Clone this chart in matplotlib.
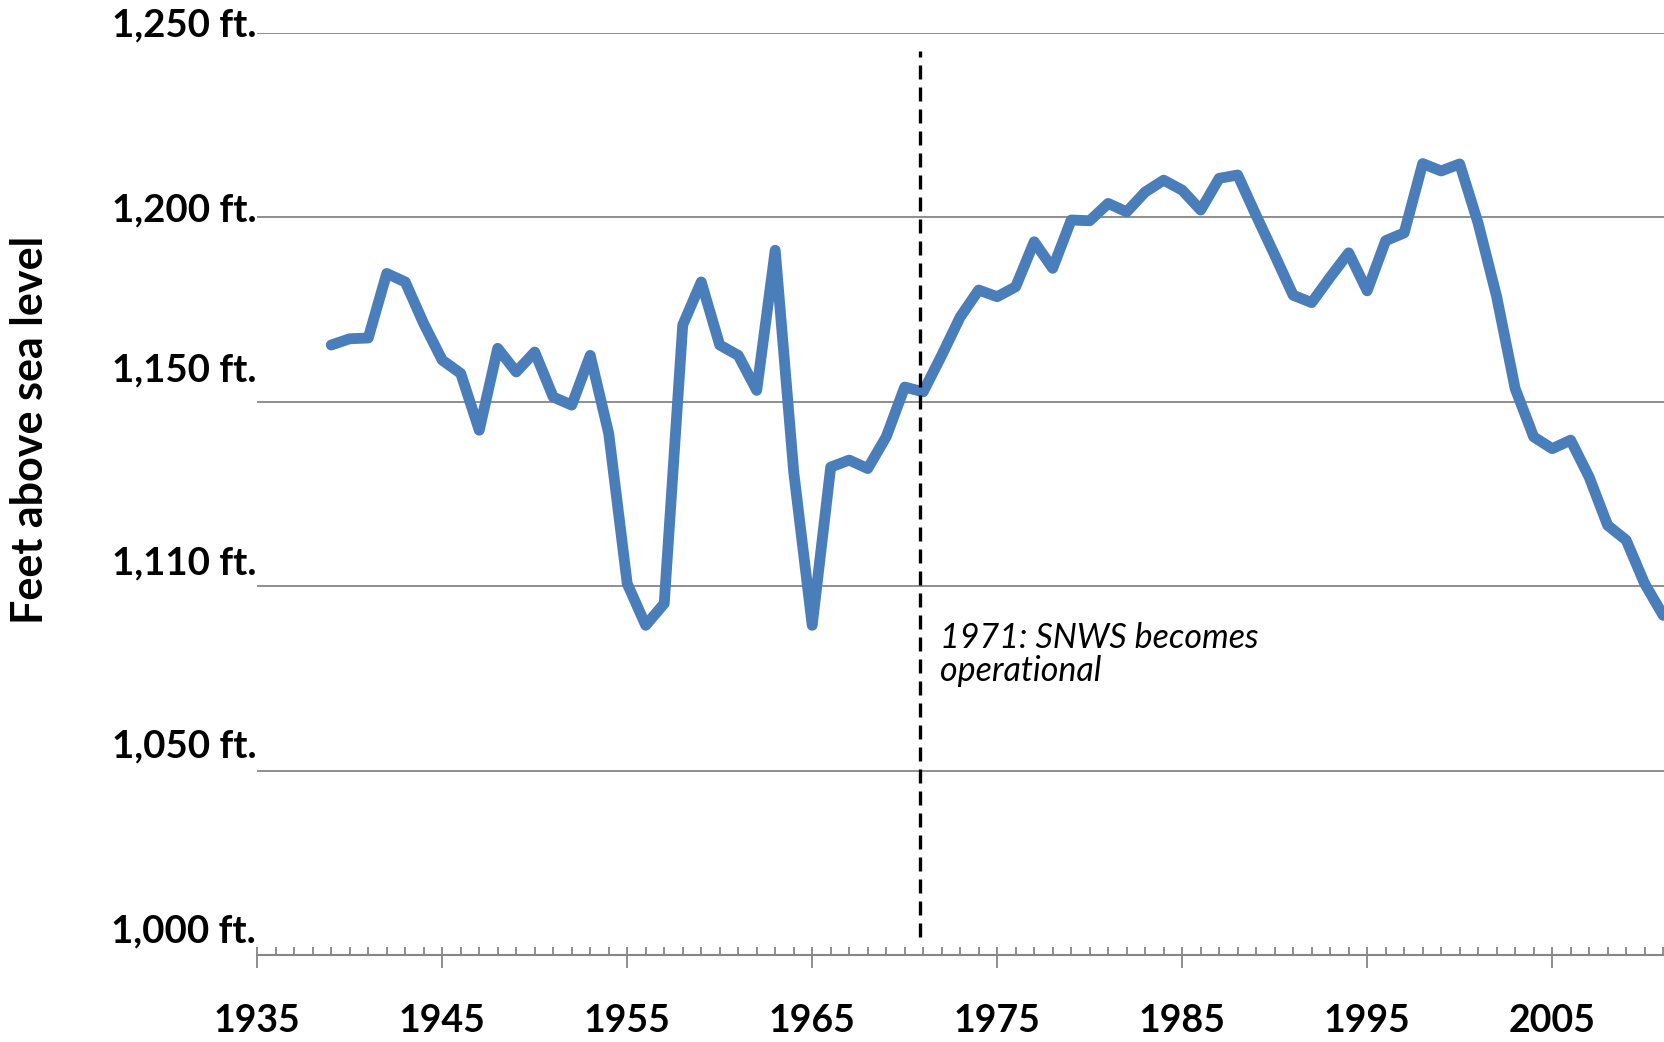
import matplotlib
matplotlib.use("Agg")
import matplotlib.pyplot as plt
from matplotlib.transforms import offset_copy

# Lake level (feet above sea level)
years = list(range(1939, 2012))
level_ft = [
    1165.4, 1167.1, 1167.3, 1184.8, 1182.5, 1171.2, 1161.3, 1157.7, 1142.3, 1164.5,
    1158.1, 1163.5, 1151.3, 1149.1, 1162.6, 1141.4, 1100.7, 1089.4, 1095.3, 1170.8,
    1182.5, 1165.4, 1162.6, 1153.1, 1191.1, 1131.0, 1089.4, 1132.3, 1134.2, 1131.9,
    1140.5, 1154.0, 1152.7, 1162.6, 1173.0, 1180.3, 1178.5, 1181.2, 1193.4, 1186.2,
    1199.3, 1199.1, 1203.8, 1201.5, 1206.9, 1210.1, 1207.4, 1202.0, 1210.6, 1211.5,
    1200.5, 1189.8, 1178.9, 1176.9, 1183.8, 1190.4, 1180.1, 1193.7, 1195.8, 1214.6,
    1212.6, 1214.5, 1198.4, 1178.5, 1153.6, 1140.5, 1137.3, 1139.6, 1129.6, 1116.5,
    1112.5, 1100.7, 1092.1,
]

y_ticks = [1000, 1050, 1100, 1150, 1200, 1250]
y_labels = ["1,000 ft.", "1,050 ft.", "1,110 ft.", "1,150 ft.", "1,200 ft.", "1,250 ft."]
x_ticks = list(range(1935, 2011, 10))
snws_year = 1971
snws_note = "1971: SNWS becomes\noperational"

font = "Lato"
grey = "#868686"
blue = "#4A7EBB"

fig = plt.figure(figsize=(16.65, 10.42), dpi=100)
ax = fig.add_axes([0.1545, 0.0835, 0.8455, 0.8848])

ax.plot(years, level_ft, color=blue, lw=7.8, solid_joinstyle="round",
        solid_capstyle="round", zorder=3)

ax.set_xlim(1935, 2011.1)
ax.set_ylim(1000, 1250)

# gridlines (1000 is the axis itself)
for v in y_ticks[1:]:
    ax.axhline(v, color=grey, lw=1.3, zorder=1)

# dashed marker for 1971
ax.axvline(snws_year - 0.15, ymin=0.02, ymax=0.98, color="black", lw=2.4,
           dashes=(4.2, 2.4), zorder=4)
ax.text(snws_year + 0.9, 1081.5, snws_note, fontsize=24.5, style="italic",
        family=font, va="center", ha="left", linespacing=1.02)

# y labels are placed a bit above their lines, like hand-made text boxes
ax.set_yticks([])
lift_px = [24, 24, 23, 31, 7, 8]
for v, lab, lift in zip(y_ticks, y_labels, lift_px):
    tr = offset_copy(ax.get_yaxis_transform(), fig=fig, x=-1, y=lift, units="dots")
    ax.text(0, v, lab, transform=tr, ha="right", va="center", fontsize=27.6,
            fontweight="bold", family=font)

# x axis
ax.xaxis.remove_overlapping_locs = False
ax.set_xticks(x_ticks)
ax.set_xticks(range(1935, 2012), minor=True)
ax.set_xticklabels([str(x) for x in x_ticks], fontsize=27, fontweight="bold", family=font)
ax.tick_params(axis="x", which="major", direction="out", length=9.4, width=1.3,
               color=grey, pad=26)
ax.tick_params(axis="x", which="minor", direction="in", length=5.8, width=1.3,
               color=grey)

for s in ["top", "right", "left"]:
    ax.spines[s].set_visible(False)
ax.spines["bottom"].set_color(grey)
ax.spines["bottom"].set_linewidth(1.5)

fig.text(30 / 1665, 1 - 430 / 1042, "Feet above sea level", rotation=90,
         ha="center", va="center", fontsize=31, fontweight="bold", family=font)

plt.savefig("out.png", dpi=100)
